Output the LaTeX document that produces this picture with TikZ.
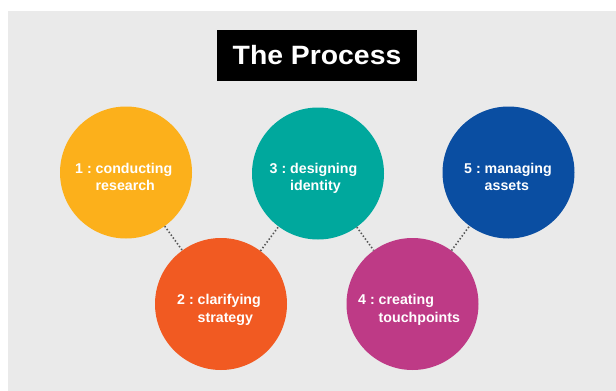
\documentclass[tikz,border=0pt]{standalone}
\usepackage{fontspec}
\setmainfont{Liberation Sans}
\usepackage{graphicx}
\definecolor{bggray}{HTML}{EAEAEA}
\definecolor{cyellow}{HTML}{FCB01B}
\definecolor{corange}{HTML}{F15A22}
\definecolor{cteal}{HTML}{00A89D}
\definecolor{cmagenta}{HTML}{BE3A86}
\definecolor{cblue}{HTML}{0A4EA2}
\definecolor{dotgray}{HTML}{555555}
\newcommand{\steplabel}[3]{\begin{tabular}[t]{@{}l@{\ }l@{}}#1 :&#2\\&#3\end{tabular}}
\begin{document}
\begin{tikzpicture}[x=1pt,y=-1pt,
  stage/.style={circle, inner sep=0pt, minimum size=132pt, fill=#1},
  steptext/.style={anchor=base west, inner sep=0pt, text=white,
    font=\fontsize{14.2}{17.5}\selectfont\bfseries},
  conn/.style={draw=dotgray, line width=1.6pt, dash pattern=on 1.4pt off 2.1pt}]
  \useasboundingbox (0,0) rectangle (616,391);
  \fill[white] (0,0) rectangle (616,391);
  \fill[bggray] (8,11) rectangle (616,391);

  % title
  \node[fill=black, inner sep=0pt, minimum width=200pt, minimum height=51pt,
        text=white, font=\fontsize{26.5}{30}\selectfont\bfseries]
        (title) at (317,55.5) {\scalebox{1.07}[1]{The Process}};

  % stages
  \node[stage=cyellow]  (c1) at (126,172.5) {};
  \node[stage=corange]  (c2) at (221,304) {};
  \node[stage=cteal]    (c3) at (318,173.5) {};
  \node[stage=cmagenta] (c4) at (412.5,304) {};
  \node[stage=cblue]    (c5) at (508.5,172.5) {};

  % dotted links between consecutive stages
  \draw[conn] (c1) -- (c2);
  \draw[conn] (c2) -- (c3);
  \draw[conn] (c3) -- (c4);
  \draw[conn] (c4) -- (c5);

  % stage labels
  \node[steptext] (t1) at (75,173)    {\steplabel{1}{conducting}{research}};
  \node[steptext] (t2) at (177,304.5) {\steplabel{2}{clarifying}{strategy}};
  \node[steptext] (t3) at (269.5,173) {\steplabel{3}{designing}{identity}};
  \node[steptext] (t4) at (358,304.5) {\steplabel{4}{creating}{touchpoints}};
  \node[steptext] (t5) at (464,173)   {\steplabel{5}{managing}{assets}};
\end{tikzpicture}
\end{document}
